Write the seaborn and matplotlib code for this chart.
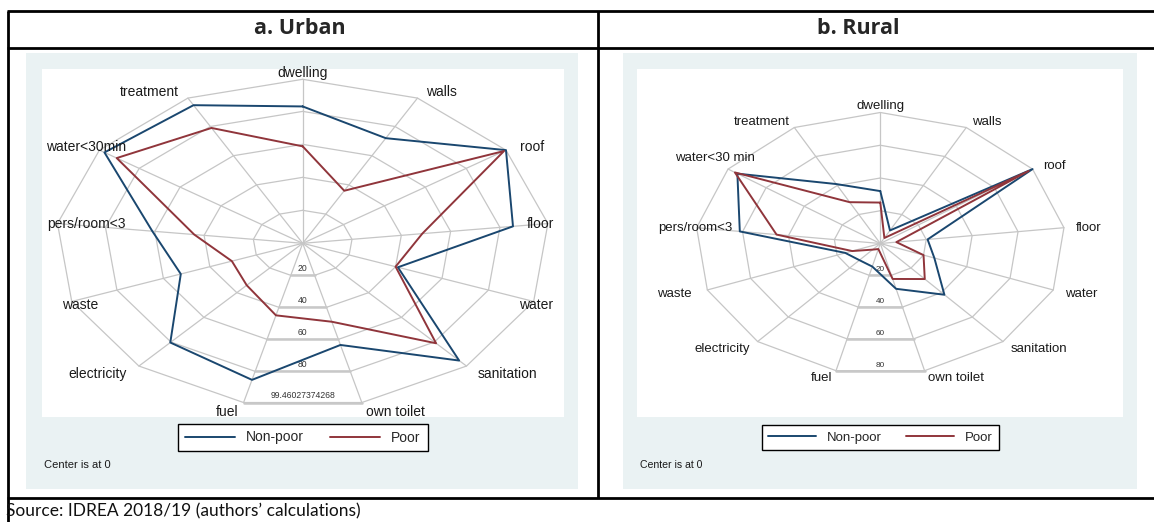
import numpy as np
import pandas as pd
import matplotlib
matplotlib.use("Agg")
import matplotlib.pyplot as plt
from matplotlib.lines import Line2D
from matplotlib.patches import Rectangle
import seaborn as sns

# ---- data -------------------------------------------------------------
urban_categories = ["dwelling", "walls", "roof", "floor", "water", "sanitation",
                    "own toilet", "fuel", "electricity", "waste", "pers/room<3",
                    "water<30min", "treatment"]
rural_categories = ["dwelling", "walls", "roof", "floor", "water", "sanitation",
                    "own toilet", "fuel", "electricity", "waste", "pers/room<3",
                    "water<30 min", "treatment"]

urban_nonpoor = [83.0, 72.0, 99.46, 85.3, 41.0, 95.0, 63.5, 85.3, 80.4, 52.5, 61.0, 97.0, 94.6]
urban_poor = [58.8, 36.0, 98.5, 48.5, 40.0, 81.0, 49.0, 45.0, 34.0, 30.5, 44.0, 91.0, 79.0]
rural_nonpoor = [32.0, 9.0, 80.0, 20.6, 25.0, 41.8, 28.5, 14.5, 13.6, 16.2, 61.2, 75.1, 41.0]
rural_poor = [25.0, 3.8, 78.0, 7.0, 20.0, 29.0, 22.3, 3.5, 5.0, 13.0, 45.2, 76.4, 28.5]

urban_rings = [20, 40, 60, 80, 99.46027374268]
urban_ring_labels = ["20", "40", "60", "80", "99.46027374268"]
rural_rings = [20, 40, 60, 80]
rural_ring_labels = ["20", "40", "60", "80"]

series_names = ["Non-poor", "Poor"]
panel_titles = ["a. Urban", "b. Rural"]
source_note = "Source: IDREA 2018/19 (authors\u2019 calculations)"
center_note = "Center is at 0"

# ---- styling ----------------------------------------------------------
W, H = 1154, 522
NAVY, MAROON = "#1A476F", "#90353B"
GRID = "#C6C6C6"
GRAPH_BG = "#EAF2F3"
LABEL_FONT = ["Liberation Sans", "DejaVu Sans"]

# offsets (px, right/down) of each category label's centre from its spoke end
urban_label_offsets = [(0, -6), (24, -6.5), (26, -3.5), (-7, 0), (2, 3.5), (41, 8),
                       (34, 9), (-16, 9), (-41, 8), (8, 3.5), (29, 0), (-13, -3.5),
                       (-39, -6.5)]
rural_label_offsets = [(0, -6.5), (20, -6), (22, -3), (25, 0.5), (28, 4.5), (36, 7),
                       (31, 7.5), (-14, 7.5), (-35, 7), (-33, 4.5), (-1, 0.5),
                       (-13.5, -11), (-33, -6)]

sns.set_theme(style="white")
plt.rcParams["font.family"] = LABEL_FONT

fig = plt.figure(figsize=(W / 100, H / 100), dpi=100)
fig.patch.set_facecolor("white")
PT = 0.72  # points per pixel at 100 dpi


def fx(x):
    return x / W


def fy(y):
    return 1 - y / H


def hline(x0, x1, y, lw=2.0):
    fig.add_artist(Line2D([fx(x0), fx(x1)], [fy(y), fy(y)], transform=fig.transFigure,
                          color="black", lw=lw, solid_capstyle="butt"))


def vline(x, y0, y1, lw=2.0):
    fig.add_artist(Line2D([fx(x), fx(x)], [fy(y0), fy(y1)], transform=fig.transFigure,
                          color="black", lw=lw, solid_capstyle="butt"))


def rect(x0, y0, x1, y1, color):
    fig.add_artist(Rectangle((fx(x0), fy(y1)), fx(x1) - fx(x0), fy(y0) - fy(y1),
                             transform=fig.transFigure, facecolor=color,
                             edgecolor="none", zorder=0))


def radar(panel):
    cats = panel["categories"]
    n = len(cats)
    theta = np.arange(n) * 2 * np.pi / n
    s, c = np.sin(theta), np.cos(theta)
    rmax = panel["rings"][-1]
    fs = panel["fontsize"]

    x0, y0, x1, y1 = panel["plot_box"]
    cx, cy, rx, ry = panel["center"]
    ax = fig.add_axes([fx(x0), fy(y1), fx(x1) - fx(x0), fy(y0) - fy(y1)])
    ax.set_facecolor("white")
    for sp in ax.spines.values():
        sp.set_visible(False)
    ax.set_xticks([])
    ax.set_yticks([])
    sx, sy = rx / rmax, ry / rmax
    ax.set_xlim(-(cx - x0) / sx, (x1 - cx) / sx)
    ax.set_ylim(-(y1 - cy) / sy, (cy - y0) / sy)

    # web: rings and spokes
    for r in panel["rings"]:
        ax.plot(np.append(r * s, r * s[0]), np.append(r * c, r * c[0]),
                color=GRID, lw=0.9, zorder=1)
    for k in range(n):
        ax.plot([0, rmax * s[k]], [0, rmax * c[k]], color=GRID, lw=0.9, zorder=1)

    # ring value labels in the gap between the two lowest spokes
    half = np.cos(np.pi / n)
    for r, lab in zip(panel["rings"], panel["ring_labels"]):
        yb = -r * half
        ax.plot([-r * np.sin(np.pi / n), r * np.sin(np.pi / n)], [yb, yb],
                color="#C8C8C8", lw=1.8, zorder=1)
        ax.annotate(lab, (0, yb), xytext=(0, 1.5), textcoords="offset points",
                    ha="center", va="bottom", fontsize=6.2 * fs / 10, color="#333333")

    # series outlines
    rows = []
    for name, vals in zip(series_names, panel["series"]):
        v = np.asarray(vals, dtype=float)
        xs = np.append(v * s, v[0] * s[0])
        ys = np.append(v * c, v[0] * c[0])
        for i, (xx, yy) in enumerate(zip(xs, ys)):
            rows.append({"group": name, "step": i, "x": xx, "y": yy})
    df = pd.DataFrame(rows)
    sns.lineplot(data=df, x="x", y="y", hue="group", units="group", estimator=None,
                 sort=False, palette={"Non-poor": NAVY, "Poor": MAROON},
                 lw=1.4, legend=False, ax=ax, zorder=3)
    ax.set_xlabel("")
    ax.set_ylabel("")

    # category labels near the spoke ends
    for k, lab in enumerate(cats):
        ox, oy = panel["label_offsets"][k]
        ax.annotate(lab, (rmax * s[k], rmax * c[k]),
                    xytext=(ox * PT, -oy * PT), textcoords="offset points",
                    ha="center", va="center", fontsize=fs, color="#1a1a1a", zorder=4)

    # legend under the web
    handles = [Line2D([], [], color=NAVY, lw=1.4), Line2D([], [], color=MAROON, lw=1.4)]
    leg = fig.legend(handles, series_names, loc="center",
                     bbox_to_anchor=(fx(cx), fy(437.5)), ncol=2, frameon=True,
                     fancybox=False, framealpha=1, edgecolor="black", fontsize=fs,
                     handlelength=3.6, columnspacing=1.9, borderpad=0.5,
                     handletextpad=0.8)
    leg.get_frame().set_linewidth(1.0)

    fig.text(fx(panel["note_x"]), fy(465.5), center_note, ha="left", va="center",
             fontsize=8 * fs / 10, color="#1a1a1a")


panels = [
    {"categories": urban_categories, "series": [urban_nonpoor, urban_poor],
     "rings": urban_rings, "ring_labels": urban_ring_labels,
     "label_offsets": urban_label_offsets, "fontsize": 10,
     "plot_box": (42, 69, 564, 417), "center": (302.7, 243.3, 247.0, 164.0),
     "bg": (26, 53, 578, 489), "note_x": 44, "title_x": 300},
    {"categories": rural_categories, "series": [rural_nonpoor, rural_poor],
     "rings": rural_rings, "ring_labels": rural_ring_labels,
     "label_offsets": rural_label_offsets, "fontsize": 9.5,
     "plot_box": (637, 69, 1123, 417), "center": (880.3, 243.5, 185.0, 131.0),
     "bg": (623, 53, 1137, 489), "note_x": 640, "title_x": 858},
]

for p in panels:
    rect(*p["bg"], GRAPH_BG)
    radar(p)

# table frame
hline(7, W, 11)
hline(7, W, 47.5)
hline(7, W, 498)
vline(7.5, 11, H)
vline(598, 11, 498)

for p, title in zip(panels, panel_titles):
    fig.text(fx(p["title_x"]), fy(29), title, ha="center", va="center",
             fontsize=15.5, fontweight="bold", family=["Open Sans", "DejaVu Sans"])

fig.text(fx(6), fy(511), source_note, ha="left", va="center", fontsize=12.5,
         family=["Lato", "DejaVu Sans"], color="#111111")

fig.savefig("out.png", dpi=100)
